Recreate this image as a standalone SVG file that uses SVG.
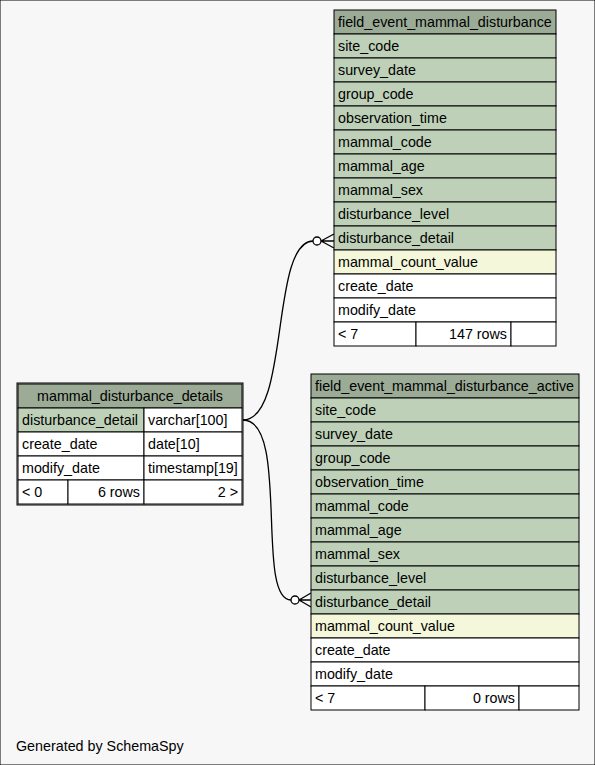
<svg xmlns="http://www.w3.org/2000/svg" width="595" height="765" viewBox="0 0 595 765">
<style>
text{font-family:"Liberation Sans",Arial,sans-serif;font-size:14.3px;fill:#000}
.h{fill:#9bab96}
.k{fill:#bed1b8}
.i{fill:#f4f7da}
.w{fill:#ffffff}
rect{stroke:#000;stroke-width:1}
.c{fill:none;stroke:#000;stroke-width:1.3}
.o{fill:#fff;stroke:#000;stroke-width:1.3}
.mid{text-anchor:middle}
.end{text-anchor:end}
</style>
<rect x="0" y="0" width="595" height="765" fill="#f7f7f7" stroke="none"/>
<g id="connectors">
<path class="c" d="M243,420 C290,420 270,242 313,241"/>
<path class="c" d="M321,241 L334,234 M321,241 L334,241 M321,241 L334,248"/>
<circle class="o" cx="317" cy="241" r="4"/>
<path class="c" d="M243,420 C290,420 255,600 291,600"/>
<path class="c" d="M299,600 L311,593 M299,600 L311,600 M299,600 L311,607"/>
<circle class="o" cx="295" cy="600" r="4"/>
</g>
<g id="field_event_mammal_disturbance">
<rect class="h" x="334" y="10" width="222" height="24"/>
<text x="338" y="27">field_event_mammal_disturbance</text>
<rect class="k" x="334" y="34" width="222" height="24"/><text x="338" y="51">site_code</text>
<rect class="k" x="334" y="58" width="222" height="24"/><text x="338" y="75">survey_date</text>
<rect class="k" x="334" y="82" width="222" height="24"/><text x="338" y="99">group_code</text>
<rect class="k" x="334" y="106" width="222" height="24"/><text x="338" y="123">observation_time</text>
<rect class="k" x="334" y="130" width="222" height="24"/><text x="338" y="147">mammal_code</text>
<rect class="k" x="334" y="154" width="222" height="24"/><text x="338" y="171">mammal_age</text>
<rect class="k" x="334" y="178" width="222" height="24"/><text x="338" y="195">mammal_sex</text>
<rect class="k" x="334" y="202" width="222" height="24"/><text x="338" y="219">disturbance_level</text>
<rect class="k" x="334" y="226" width="222" height="24"/><text x="338" y="243">disturbance_detail</text>
<rect class="i" x="334" y="250" width="222" height="24"/><text x="338" y="267">mammal_count_value</text>
<rect class="w" x="334" y="274" width="222" height="24"/><text x="338" y="291">create_date</text>
<rect class="w" x="334" y="298" width="222" height="24"/><text x="338" y="315">modify_date</text>
<rect class="w" x="334" y="322" width="82" height="24"/><text x="338" y="339">&lt; 7</text>
<rect class="w" x="416" y="322" width="95" height="24"/><text class="end" x="507" y="339">147 rows</text>
<rect class="w" x="511" y="322" width="45" height="24"/>
</g>
<g id="field_event_mammal_disturbance_active">
<rect class="h" x="311" y="374" width="268" height="24"/>
<text x="315" y="391">field_event_mammal_disturbance_active</text>
<rect class="k" x="311" y="398" width="268" height="24"/><text x="315" y="415">site_code</text>
<rect class="k" x="311" y="422" width="268" height="24"/><text x="315" y="439">survey_date</text>
<rect class="k" x="311" y="446" width="268" height="24"/><text x="315" y="463">group_code</text>
<rect class="k" x="311" y="470" width="268" height="24"/><text x="315" y="487">observation_time</text>
<rect class="k" x="311" y="494" width="268" height="24"/><text x="315" y="511">mammal_code</text>
<rect class="k" x="311" y="518" width="268" height="24"/><text x="315" y="535">mammal_age</text>
<rect class="k" x="311" y="542" width="268" height="24"/><text x="315" y="559">mammal_sex</text>
<rect class="k" x="311" y="566" width="268" height="24"/><text x="315" y="583">disturbance_level</text>
<rect class="k" x="311" y="590" width="268" height="24"/><text x="315" y="607">disturbance_detail</text>
<rect class="i" x="311" y="614" width="268" height="24"/><text x="315" y="631">mammal_count_value</text>
<rect class="w" x="311" y="638" width="268" height="24"/><text x="315" y="655">create_date</text>
<rect class="w" x="311" y="662" width="268" height="24"/><text x="315" y="679">modify_date</text>
<rect class="w" x="311" y="686" width="114" height="24"/><text x="315" y="703">&lt; 7</text>
<rect class="w" x="425" y="686" width="94" height="24"/><text class="end" x="515" y="703">0 rows</text>
<rect class="w" x="519" y="686" width="60" height="24"/>
</g>
<g id="mammal_disturbance_details">
<rect class="h" x="18" y="384" width="224" height="24"/>
<text class="mid" x="130" y="401">mammal_disturbance_details</text>
<rect class="k" x="18" y="408" width="126" height="24"/><text x="22" y="425">disturbance_detail</text>
<rect class="w" x="144" y="408" width="98" height="24"/><text x="148" y="425">varchar[100]</text>
<rect class="w" x="18" y="432" width="126" height="24"/><text x="22" y="449">create_date</text>
<rect class="w" x="144" y="432" width="98" height="24"/><text x="148" y="449">date[10]</text>
<rect class="w" x="18" y="456" width="126" height="24"/><text x="22" y="473">modify_date</text>
<rect class="w" x="144" y="456" width="98" height="24"/><text x="148" y="473">timestamp[19]</text>
<rect class="w" x="18" y="480" width="50" height="24"/><text x="22" y="497">&lt; 0</text>
<rect class="w" x="68" y="480" width="76" height="24"/><text class="end" x="140" y="497">6 rows</text>
<rect class="w" x="144" y="480" width="98" height="24"/><text class="end" x="238" y="497">2 &gt;</text>
<rect x="17" y="383" width="226" height="122" fill="none" stroke-width="3"/>
</g>
<text x="16" y="751">Generated by SchemaSpy</text>
</svg>
